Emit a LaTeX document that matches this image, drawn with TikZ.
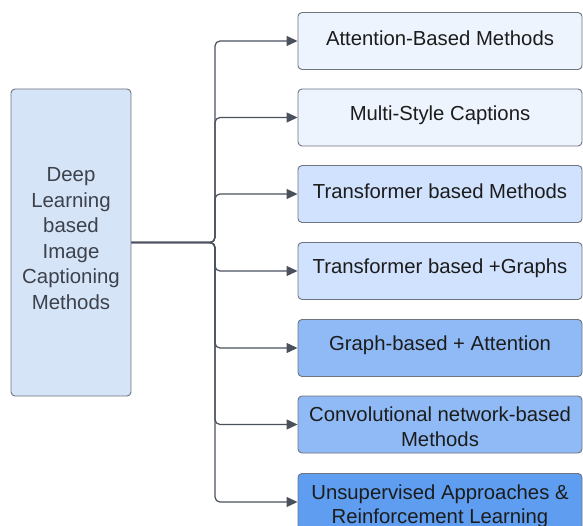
\documentclass[tikz,border=0pt]{standalone}
\usepackage{fontspec}
\setmainfont{Liberation Sans}
\usetikzlibrary{arrows.meta}
\definecolor{lbfill}{HTML}{D5E4F7}
\definecolor{bdr}{HTML}{6E7480}
\definecolor{cA}{HTML}{EEF4FE}
\definecolor{cB}{HTML}{D0E2FD}
\definecolor{cC}{HTML}{8FBAF5}
\definecolor{cD}{HTML}{5E9DF0}
\definecolor{linec}{HTML}{4A505C}
\definecolor{txt}{HTML}{1C1C1C}
\definecolor{ltxt}{HTML}{3C414B}
\newcommand{\oneline}[1]{\raisebox{2.5pt}[\height][\depth]{#1}}
\newcommand{\twoline}[2]{\raisebox{-4.5pt}[\height][\depth]{\begin{tabular}{@{}c@{}}#1\\#2\end{tabular}}}
\newcommand{\lefttext}[1]{\raisebox{2pt}[\height][\depth]{\begin{tabular}{@{}c@{}}#1\end{tabular}}}
\tikzset{
  rbox/.style={draw=bdr, line width=0.9pt, rounded corners=4pt, minimum width=284pt, minimum height=57pt, align=center, text=txt, font=\fontsize{20.3}{24.5}\selectfont, inner sep=2pt},
  conn/.style={draw=linec, line width=1.2pt, rounded corners=5pt, -{Triangle[length=11pt,width=10pt]}},
}
\begin{document}
\begin{tikzpicture}[x=1pt,y=-1pt]
\useasboundingbox (0,0) rectangle (583,526);
\clip (0,0) rectangle (583,526);
\node[draw=bdr, line width=0.9pt, fill=lbfill, rounded corners=4pt, minimum width=120pt, minimum height=307pt, align=center, text=ltxt, font=\fontsize{20.4}{25.5}\selectfont] (L) at (71,242.5) {\lefttext{Deep\\Learning\\based\\Image\\Captioning\\Methods}};
\node[rbox, fill=cA] (b1) at (440,41) {\oneline{Attention-Based Methods}};
\node[rbox, fill=cA] (b2) at (440,117.5) {\oneline{Multi-Style Captions}};
\node[rbox, fill=cB] (b3) at (440,194) {\oneline{Transformer based Methods}};
\node[rbox, fill=cB] (b4) at (440,271) {\oneline{Transformer based +Graphs}};
\node[rbox, fill=cC] (b5) at (440,348) {\oneline{Graph-based + Attention}};
\node[rbox, fill=cC] (b6) at (440,424.5) {\twoline{Convolutional network-based}{Methods}};
\node[rbox, fill=cD] (b7) at (440,502) {\twoline{Unsupervised Approaches \&}{Reinforcement Learning}};
\coordinate (J) at (215,242.5);
\foreach \b in {b1,b2,b3,b4,b5,b6,b7}{
  \draw[conn] (L.east) -- (J) |- (\b.west);
}
\end{tikzpicture}
\end{document}
